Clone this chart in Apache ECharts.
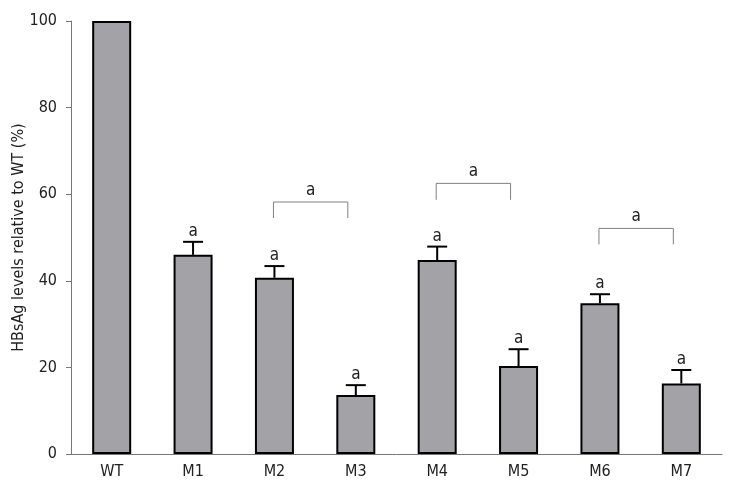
<!DOCTYPE html>
<html>
<head>
<meta charset="utf-8">
<script src="https://cdn.jsdelivr.net/npm/echarts@6/dist/echarts.min.js"></script>
<style>html,body{margin:0;padding:0;background:#fff;}#c{width:747px;height:488px;}</style>
</head>
<body>
<div id="c"></div>
<script>
const categories = ['WT', 'M1', 'M2', 'M3', 'M4', 'M5', 'M6', 'M7'];
const values = [100, 46.0, 40.7, 13.6, 44.8, 20.3, 34.8, 16.3];
const errors = [0, 3.0, 2.7, 2.3, 3.1, 3.9, 2.1, 3.1];
const sigLabels = ['', 'a', 'a', 'a', 'a', 'a', 'a', 'a'];
const bracketFrom = [2, 4, 6];
const bracketTo = [3, 5, 7];
const bracketTop = [58.2, 62.5, 52.1];
const bracketDrop = [54.5, 58.7, 48.4];
const bracketLabels = ['a', 'a', 'a'];
const yTicks = [0, 20, 40, 60, 80, 100];

const FONT = '"DejaVu Sans Condensed", "DejaVu Sans", sans-serif';
const chart = echarts.init(document.getElementById('c'));

const errData = values.map((v, i) => [i, v, v + errors[i], sigLabels[i]]);
const brData = bracketFrom.map((f, i) => [f, bracketTo[i], bracketTop[i], bracketDrop[i], bracketLabels[i]]);

chart.setOption({
  animation: false,
  grid: { left: 71, right: 25, top: 21, bottom: 34, containLabel: false, outerBoundsMode: 'none' },
  xAxis: {
    type: 'category',
    data: categories,
    axisLine: { lineStyle: { color: '#777', width: 1 } },
    axisTick: { alignWithLabel: true, length: 5, lineStyle: { color: '#777' } },
    axisLabel: { color: '#222', fontFamily: FONT, fontSize: 16, margin: 10 }
  },
  yAxis: {
    type: 'value',
    min: yTicks[0], max: yTicks[yTicks.length - 1], interval: 20,
    name: 'HBsAg levels relative to WT (%)',
    nameLocation: 'middle',
    nameGap: 44,
    nameMoveOverlap: false,
    nameTextStyle: { color: '#222', fontFamily: FONT, fontSize: 16 },
    splitLine: { show: false },
    axisLine: { show: true, lineStyle: { color: '#777', width: 1 } },
    axisTick: { show: true, length: 5, lineStyle: { color: '#777' } },
    axisLabel: { color: '#222', fontFamily: FONT, fontSize: 16, margin: 14 }
  },
  series: [
    {
      type: 'bar',
      data: values,
      barWidth: 39,
      itemStyle: { color: '#a3a2a7', borderColor: '#000', borderWidth: 2 },
      z: 2
    },
    {
      type: 'custom',
      data: errData,
      z: 3,
      renderItem: function (params, api) {
        const i = api.value(0);
        const v = api.value(1);
        const top = api.value(2);
        const p0 = api.coord([i, v]);
        const p1 = api.coord([i, top]);
        const children = [];
        if (top > v) {
          children.push({ type: 'line', shape: { x1: p0[0], y1: p0[1], x2: p1[0], y2: p1[1] }, style: { stroke: '#000', lineWidth: 2 } });
          children.push({ type: 'line', shape: { x1: p1[0] - 10, y1: p1[1], x2: p1[0] + 10, y2: p1[1] }, style: { stroke: '#000', lineWidth: 2 } });
        }
        const lab = sigLabels[i];
        if (lab) {
          children.push({ type: 'text', style: { text: lab, x: p1[0], y: p1[1] - 2, textAlign: 'center', textVerticalAlign: 'bottom', font: '17px ' + FONT, fill: '#222' } });
        }
        return { type: 'group', children: children };
      }
    },
    {
      type: 'custom',
      data: brData,
      z: 3,
      renderItem: function (params, api) {
        const f = api.value(0), t = api.value(1);
        const yt = api.value(2), yd = api.value(3);
        const a = api.coord([f, yt]);
        const b = api.coord([t, yt]);
        const d = api.coord([f, yd]);
        const x1 = a[0] - 1, x2 = b[0] - 8;
        const lab = bracketLabels[params.dataIndex];
        return {
          type: 'group',
          children: [
            { type: 'polyline', shape: { points: [[x1, d[1]], [x1, a[1]], [x2, a[1]], [x2, d[1]]] }, style: { stroke: '#808080', lineWidth: 1, fill: null } },
            { type: 'text', style: { text: lab, x: (x1 + x2) / 2, y: a[1] - 3, textAlign: 'center', textVerticalAlign: 'bottom', font: '17px ' + FONT, fill: '#222' } }
          ]
        };
      }
    }
  ]
});
</script>
</body>
</html>
